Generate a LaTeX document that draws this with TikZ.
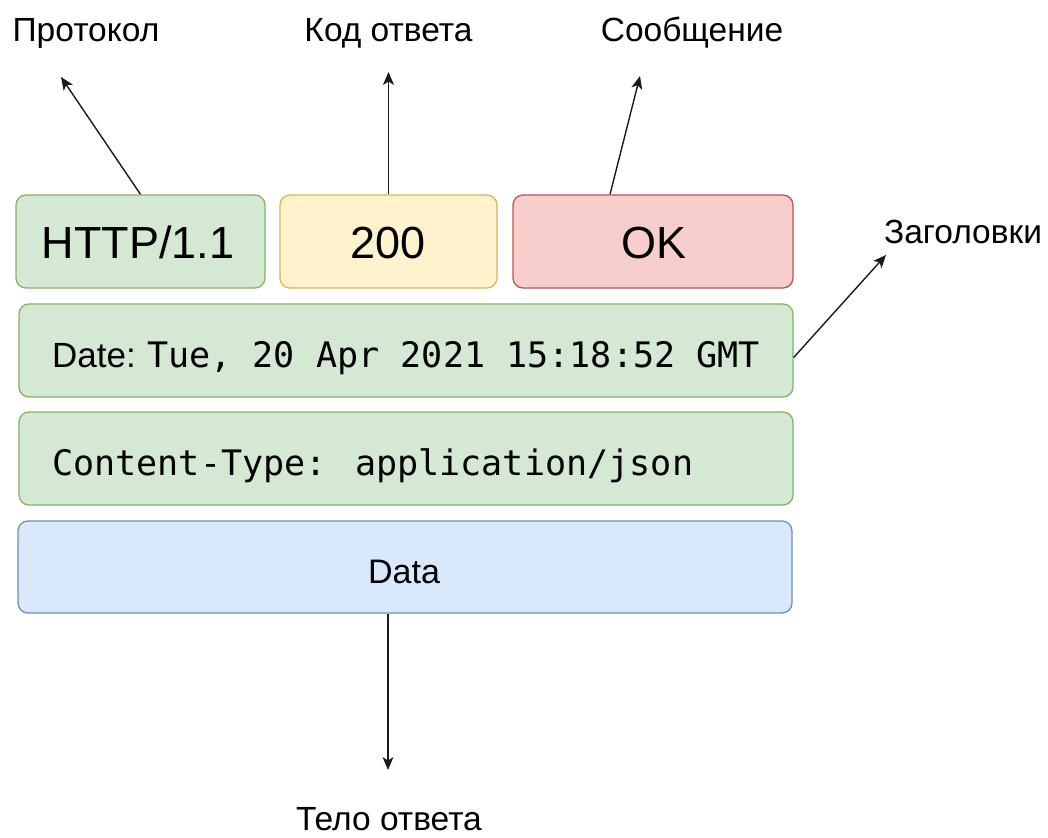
\documentclass[tikz,border=0pt]{standalone}
\usepackage{fontspec}
\setmainfont{Liberation Sans}
\newfontfamily\monof{DejaVu Sans Mono}
\usetikzlibrary{arrows.meta,calc}
\definecolor{gfill}{HTML}{D5E8D4}
\definecolor{gline}{HTML}{82B366}
\definecolor{yfill}{HTML}{FFF2CC}
\definecolor{yline}{HTML}{D6B656}
\definecolor{rfill}{HTML}{F8CECC}
\definecolor{rline}{HTML}{B85450}
\definecolor{bfill}{HTML}{DAE8FC}
\definecolor{bline}{HTML}{6C8EBF}
\definecolor{arr}{HTML}{1A1A1A}
\begin{document}
\begin{tikzpicture}[x=1pt,y=-1pt,
  box/.style={draw, rounded corners=10pt, line width=1.3pt, inner sep=0pt},
  gbox/.style={box, fill=gfill, draw=gline},
  big/.style={font=\fontsize{45}{54}\selectfont, anchor=base, inner sep=0pt},
  lbl/.style={font=\fontsize{33.5}{40}\selectfont, anchor=base, inner sep=0pt},
  mono/.style={font=\monof\fontsize{35.1}{42}\selectfont, anchor=base west, inner sep=0pt},
  conn/.style={draw=arr, line width=1.4pt, -{Stealth[length=13pt,width=11pt,inset=3.5pt]}}
]
\useasboundingbox (0,0) rectangle (1048,837);

% boxes
\node[gbox, minimum width=249pt, minimum height=93pt] (http) at (140.5,241.5) {};
\node[box, fill=yfill, draw=yline, minimum width=217pt, minimum height=93pt] (code) at (388.5,241.5) {};
\node[box, fill=rfill, draw=rline, minimum width=280pt, minimum height=93pt] (ok) at (653,241.5) {};
\node[gbox, minimum width=774pt, minimum height=93pt] (date) at (406,350.5) {};
\node[gbox, minimum width=774pt, minimum height=93pt] (ctype) at (406,458.5) {};
\node[box, fill=bfill, draw=bline, minimum width=774pt, minimum height=92pt] (data) at (405,567) {};

% box texts
\node[big] (httpt) at (138,258) {HTTP/1.1};
\node[big] (codet) at (388,258) {200};
\node[big] (okt) at (654,258) {OK};
\node[mono] (datet) at (52,367) {\makebox[95pt][l]{\fontspec{Liberation Sans}\fontsize{35}{42}\selectfont Date:}Tue, 20 Apr 2021 15:18:52 GMT};
\node[mono] (ctypet) at (52,475) {Content-Type: application/json};
\node[font=\fontsize{34}{40}\selectfont, anchor=base, inner sep=0pt] (datat) at (404,583) {Data};

% outer labels
\node[lbl] (lproto) at (86,42) {Протокол};
\node[lbl] (lcode) at (388.5,42) {Код ответа};
\node[lbl] (lmsg) at (692,42) {Сообщение};
\node[lbl] (lhead) at (963,243) {Заголовки};
\node[lbl] (lbody) at (389,830) {Тело ответа};

% arrow ends
\coordinate (eproto) at (61,77);
\coordinate (ecode) at (388.5,72);
\coordinate (emsg) at (640,76);
\coordinate (ehead) at (886,255);
\coordinate (ebody) at (388,770);

\draw[conn] (http.north) -- (eproto);
\draw[conn] (code.north) -- (ecode);
\draw[conn] ([xshift=-43pt]ok.north) -- (emsg);
\draw[conn] ([yshift=-7pt]date.east) -- (ehead);
\draw[conn] ([xshift=-17pt]data.south) -- (ebody);
\end{tikzpicture}
\end{document}
